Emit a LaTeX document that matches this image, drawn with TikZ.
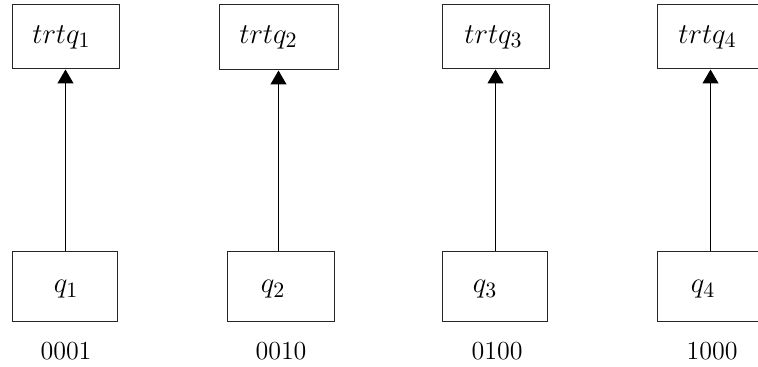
\documentclass[tikz,border=0pt]{standalone}
\usetikzlibrary{arrows.meta}
\begin{document}
\begin{tikzpicture}[x=0.5pt,y=-0.5pt,
  box/.style={draw=black!85,line width=0.5pt,inner sep=0pt,minimum width=#1*0.5pt},
  topbox/.style={box=#1,minimum height=64*0.5pt},
  botbox/.style={box=#1,minimum height=70*0.5pt},
  txt/.style={inner sep=0pt,font=\fontsize{13}{15.6}\selectfont},
  mtxt/.style={inner sep=0pt,font=\fontsize{15}{18}\selectfont},
  conn/.style={line width=0.6pt,-{Triangle[length=7pt,width=8pt]}}]
\useasboundingbox (0,0) rectangle (758,367);
% top boxes
\node[topbox=107] (t1) at (65.5,37) {};
\node[box=119,minimum height=65*0.5pt] (t2) at (278.5,37.5) {};
\node[topbox=107] (t3) at (495.5,37) {};
\node[topbox=107] (t4) at (710.5,37) {};
% bottom boxes
\node[botbox=105] (b1) at (64.5,287) {};
\node[botbox=107] (b2) at (280.5,287) {};
\node[botbox=105] (b3) at (494.5,287) {};
\node[botbox=105] (b4) at (709.5,287) {};
% texts
\node[mtxt] (tt1) at (61.5,37.5) {$trtq_1$};
\node[mtxt] (tt2) at (268.5,37.5) {$trtq_2$};
\node[mtxt] (tt3) at (493.5,37.5) {$trtq_3$};
\node[mtxt] (tt4) at (707.5,37.5) {$trtq_4$};
\node[mtxt] (q1) at (66,289.5) {$q_1$};
\node[mtxt] (q2) at (273,289.5) {$q_2$};
\node[mtxt] (q3) at (485,289.5) {$q_3$};
\node[mtxt] (q4) at (703,289.5) {$q_4$};
\node[txt] (l1) at (66,351.5) {0001};
\node[txt] (l2) at (281,351.5) {0010};
\node[txt] (l3) at (497,351.5) {0100};
\node[txt] (l4) at (712,351.5) {1000};
% connectors
\draw[conn] (t1.south |- b1.north) -- (t1.south);
\draw[conn] (t2.south |- b2.north) -- (t2.south);
\draw[conn] (t3.south |- b3.north) -- (t3.south);
\draw[conn] (t4.south |- b4.north) -- (t4.south);
\end{tikzpicture}
\end{document}
